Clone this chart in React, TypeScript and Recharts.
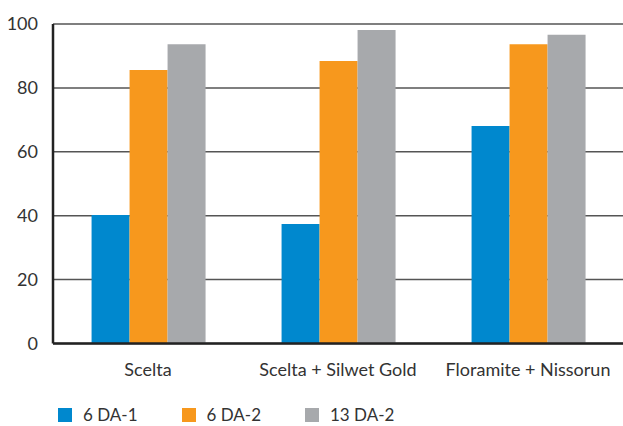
import React from "react";
import { BarChart, Bar, XAxis, YAxis, CartesianGrid, Legend } from "recharts";

const categories = ["Scelta", "Scelta + Silwet Gold", "Floramite + Nissorun"];
const da1 = [40.2, 37.4, 68.1];
const da2a = [85.6, 88.4, 93.7];
const da2b = [93.7, 98.1, 96.6];
const yTicks = [0, 20, 40, 60, 80, 100];

const seriesNames = ["6 DA-1", "6 DA-2", "13 DA-2"];
const seriesColors = ["#0088CE", "#F7981D", "#A7A9AC"];

const data = categories.map((c, i) => ({
  name: c,
  s1: da1[i],
  s2: da2a[i],
  s3: da2b[i],
}));

const FONT = "Lato, 'Open Sans', sans-serif";

const LegendContent = () => (
  <div style={{ display: "flex", fontFamily: FONT, fontSize: 17, color: "#333" }}>
    {seriesNames.map((n, i) => (
      <div key={n} style={{ display: "flex", alignItems: "center", width: 123.5 }}>
        <div style={{ width: 14, height: 14, background: seriesColors[i], marginRight: 11 }} />
        <span style={{ lineHeight: "14px" }}>{n}</span>
      </div>
    ))}
  </div>
);

export default function App() {
  return (
    <div style={{ position: "absolute", left: 0, top: 0, background: "#fff" }}>
      <BarChart
        width={623}
        height={426}
        data={data}
        margin={{ top: 24, right: 0, bottom: 0, left: 0 }}
        barCategoryGap="20.3%"
        barGap={0}
      >
        <CartesianGrid vertical={false} stroke="#555" strokeWidth={1.5} />
        <XAxis
          dataKey="name"
          height={40}
          tickSize={0}
          tickMargin={20}
          axisLine={{ stroke: "#222", strokeWidth: 2.5 }}
          tick={{ fill: "#333", fontSize: 18, fontFamily: FONT }}
        />
        <YAxis
          width={53}
          domain={[0, 100]}
          ticks={yTicks}
          tickSize={0}
          tickMargin={15}
          axisLine={{ stroke: "#222", strokeWidth: 2.5 }}
          tick={{ fill: "#333", fontSize: 18, fontFamily: FONT }}
        />
        <Legend
          height={42.5}
          content={<LegendContent />}
          wrapperStyle={{ top: 408, left: 58, width: 500 }}
        />
        <Bar dataKey="s1" name={seriesNames[0]} fill={seriesColors[0]} isAnimationActive={false} />
        <Bar dataKey="s2" name={seriesNames[1]} fill={seriesColors[1]} isAnimationActive={false} />
        <Bar dataKey="s3" name={seriesNames[2]} fill={seriesColors[2]} isAnimationActive={false} />
      </BarChart>
    </div>
  );
}
